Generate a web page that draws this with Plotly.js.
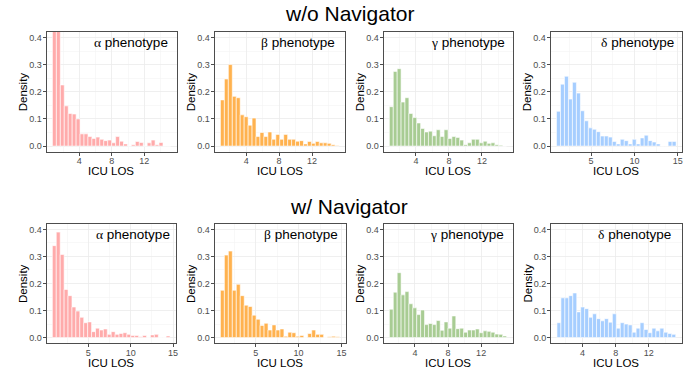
<!DOCTYPE html>
<html>
<head>
<meta charset="utf-8">
<script src="https://cdn.plot.ly/plotly-3.0.1.min.js"></script>
<style>html,body{margin:0;padding:0;background:#fff;}#chart{width:699px;height:371px;}</style>
</head>
<body>
<div id="chart"></div>
<script>
// Panel labels and group titles
const phenotypes = ['α', 'β', 'γ', 'δ'];
const groupTitles = ['w/o Navigator', 'w/ Navigator'];
const xTitle = 'ICU LOS';
const yTitle = 'Density';

// Histogram densities (30 bins per panel)
const woAlpha = [0.50, 0.46, 0.225, 0.148, 0.12, 0.118, 0.10, 0.045, 0.045, 0.035, 0.028, 0.033, 0.025, 0.02, 0.022, 0.012, 0.035, 0.018, 0.008, 0.0, 0.005, 0.017, 0.013, 0.0, 0.012, 0.022, 0.005, 0.013, 0.0, 0.0];
const woBeta  = [0.17, 0.247, 0.30, 0.183, 0.178, 0.115, 0.108, 0.077, 0.103, 0.035, 0.05, 0.035, 0.052, 0.025, 0.043, 0.025, 0.043, 0.025, 0.025, 0.018, 0.02, 0.008, 0.017, 0.01, 0.017, 0.012, 0.012, 0.01, 0.005, 0.002];
const woGamma = [0.145, 0.275, 0.285, 0.162, 0.178, 0.12, 0.105, 0.085, 0.065, 0.052, 0.055, 0.038, 0.06, 0.035, 0.06, 0.028, 0.035, 0.032, 0.022, 0.005, 0.012, 0.025, 0.025, 0.012, 0.018, 0.01, 0.012, 0.005, 0.003, 0.0];
const woDelta = [0.128, 0.228, 0.257, 0.173, 0.235, 0.195, 0.13, 0.093, 0.067, 0.062, 0.053, 0.037, 0.037, 0.033, 0.017, 0.008, 0.025, 0.02, 0.008, 0.025, 0.008, 0.03, 0.04, 0.02, 0.015, 0.008, 0.0, 0.0, 0.017, 0.017];
const wAlpha  = [0.34, 0.39, 0.307, 0.178, 0.155, 0.113, 0.098, 0.075, 0.055, 0.058, 0.022, 0.035, 0.028, 0.032, 0.012, 0.022, 0.012, 0.015, 0.018, 0.012, 0.008, 0.008, 0.003, 0.008, 0.0, 0.01, 0.012, 0.0, 0.0, 0.006];
const wBeta   = [0.175, 0.305, 0.32, 0.175, 0.197, 0.155, 0.12, 0.115, 0.083, 0.068, 0.045, 0.053, 0.028, 0.047, 0.028, 0.032, 0.005, 0.02, 0.018, 0.005, 0.008, 0.0, 0.015, 0.028, 0.012, 0.012, 0.0, 0.003, 0.005, 0.003];
const wGamma  = [0.105, 0.168, 0.24, 0.158, 0.17, 0.125, 0.11, 0.085, 0.102, 0.048, 0.052, 0.048, 0.063, 0.027, 0.058, 0.035, 0.08, 0.033, 0.035, 0.02, 0.028, 0.028, 0.032, 0.018, 0.025, 0.023, 0.02, 0.013, 0.012, 0.006];
const wDelta  = [0.055, 0.147, 0.147, 0.155, 0.165, 0.095, 0.113, 0.107, 0.075, 0.088, 0.07, 0.062, 0.07, 0.057, 0.088, 0.035, 0.055, 0.05, 0.047, 0.02, 0.035, 0.055, 0.03, 0.018, 0.035, 0.025, 0.035, 0.02, 0.015, 0.012];

// Bin edges: start of first bin and bin width (ICU LOS units) per panel
const binStart = [0.69, 0.88, 0.78, 1.01, 0.76, 0.88, 0.92, 0.91];
const binWidth = [0.486, 0.48, 0.474, 0.46, 0.463, 0.463, 0.472, 0.478];

// Tick labels
const yTicks = [0, 0.1, 0.2, 0.3, 0.4];
const yTickText = ['0.0', '0.1', '0.2', '0.3', '0.4'];
const yMinor = [0.05, 0.15, 0.25, 0.35];
const xTicksA = [4, 8, 12];
const xMinorA = [2, 6, 10, 14];
const xTicksB = [5, 10, 15];
const xMinorB = [2.5, 7.5, 12.5];

const series = [woAlpha, woBeta, woGamma, woDelta, wAlpha, wBeta, wGamma, wDelta];
const colors = ['#FFABAB', '#FFB24F', '#A8CC93', '#A6CEFF'];

// Layout geometry (px)
const W = 699, H = 371;
const boxes = [
  [46.5, 176.5, 32, 151.5], [214.5, 345, 32, 151.5], [383.5, 512.5, 32, 151.5], [550.5, 682, 32, 151.5],
  [46.5, 176, 224, 343], [214.5, 345.5, 224, 343], [383.5, 512.5, 224, 343], [551, 681.5, 224, 343]
];
const xRanges = [[-0.04, 15.96], [0.16, 16.0], [0.07, 15.71], [0.32, 15.49], [0.07, 15.35], [0.19, 15.47], [0.21, 15.79], [0.19, 15.95]];
const xTickSet = [0, 0, 0, 1, 1, 1, 0, 0];

const traces = [];
const layout = {
  width: W, height: H,
  margin: {l: 0, r: 0, t: 0, b: 0},
  paper_bgcolor: '#fff', plot_bgcolor: '#fff',
  showlegend: false,
  bargap: 0,
  font: {family: 'Liberation Sans, Arial, sans-serif', color: '#000'},
  annotations: []
};

series.forEach((vals, k) => {
  const id = k === 0 ? '' : String(k + 1);
  const xs = vals.map((_, i) => binStart[k] + (i + 0.5) * binWidth[k]);
  traces.push({
    type: 'bar', x: xs, y: vals, width: binWidth[k],
    xaxis: 'x' + id, yaxis: 'y' + id,
    marker: {color: colors[k % 4], line: {color: '#ffffff', width: 0.6}},
    hoverinfo: 'x+y'
  });
  const b = boxes[k];
  const axCommon = {
    showline: true, mirror: true, linecolor: '#4d4d4d', linewidth: 1,
    ticks: 'outside', ticklen: 3, tickwidth: 1, tickcolor: '#4d4d4d',
    tickfont: {size: 9, color: '#4D4D4D', family: 'Liberation Sans, Arial, sans-serif'},
    showgrid: true, gridcolor: '#EBEBEB', gridwidth: 0.8,
    zeroline: false, fixedrange: true
  };
  const xt = xTickSet[k] === 0 ? xTicksA : xTicksB;
  const xm = xTickSet[k] === 0 ? xMinorA : xMinorB;
  layout['xaxis' + id] = Object.assign({}, axCommon, {
    domain: [b[0] / W, b[1] / W], anchor: 'y' + id,
    range: xRanges[k], tickmode: 'array', tickvals: xt, ticktext: xt.map(String),
    ticklabelstandoff: -2,
    minor: {tickmode: 'array', tickvals: xm, showgrid: true, gridcolor: '#F2F2F2', gridwidth: 0.5, ticks: ''}
  });
  layout['yaxis' + id] = Object.assign({}, axCommon, {
    domain: [1 - b[3] / H, 1 - b[2] / H], anchor: 'x' + id,
    range: [-0.02, 0.42], tickmode: 'array', tickvals: yTicks, ticktext: yTickText,
    ticklabelstandoff: -1,
    minor: {tickmode: 'array', tickvals: yMinor, showgrid: true, gridcolor: '#F2F2F2', gridwidth: 0.5, ticks: ''}
  });
  // phenotype label
  layout.annotations.push({
    xref: 'x' + id, yref: 'y' + id, x: 10.3, y: 0.38,
    xanchor: 'center', yanchor: 'middle', showarrow: false,
    text: '<span style="font-family:\'Liberation Serif\',serif">' + phenotypes[k % 4] + '</span> phenotype',
    font: {size: 13.5, color: '#000'}
  });
  // axis titles
  layout.annotations.push({
    xref: 'x' + id + ' domain', yref: 'y' + id + ' domain', x: 0.5, y: 0, yshift: -20,
    xanchor: 'center', yanchor: 'middle', showarrow: false,
    text: xTitle, font: {size: 11.5, color: '#000'}
  });
  layout.annotations.push({
    xref: 'x' + id + ' domain', yref: 'y' + id + ' domain', x: 0, y: 0.5, xshift: -24,
    xanchor: 'center', yanchor: 'middle', showarrow: false, textangle: -90,
    text: yTitle, font: {size: 11.5, color: '#000'}
  });
});

// group titles
layout.annotations.push({
  xref: 'paper', yref: 'paper', x: 349 / W, y: 1 - 14 / H, xanchor: 'center', yanchor: 'middle',
  showarrow: false, text: groupTitles[0], font: {size: 21, color: '#000'}
});
layout.annotations.push({
  xref: 'paper', yref: 'paper', x: 349 / W, y: 1 - 206 / H, xanchor: 'center', yanchor: 'middle',
  showarrow: false, text: groupTitles[1], font: {size: 21, color: '#000'}
});

Plotly.newPlot('chart', traces, layout, {displayModeBar: false, staticPlot: true});
</script>
</body>
</html>
